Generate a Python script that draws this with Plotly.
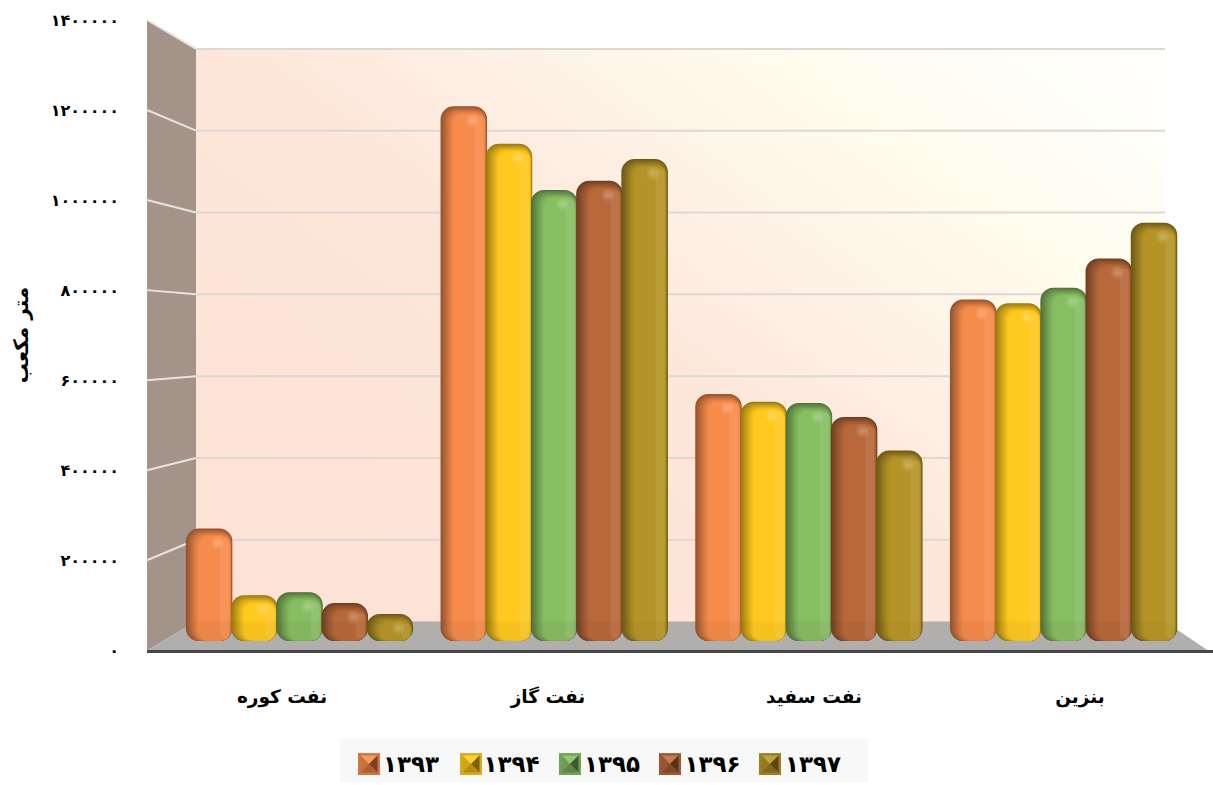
import plotly.graph_objects as go

categories = ["نفت کوره", "نفت گاز", "نفت سفید", "بنزین"]
series_names = ["۱۳۹۳", "۱۳۹۴", "۱۳۹۵", "۱۳۹۶", "۱۳۹۷"]
v1393 = [258000, 1227000, 567000, 784000]
v1394 = [105000, 1141000, 549000, 775000]
v1395 = [112000, 1035000, 546000, 811000]
v1396 = [87000, 1056000, 514000, 878000]
v1397 = [62000, 1106000, 437000, 960000]
series_values = [v1393, v1394, v1395, v1396, v1397]
series_colors = ["#F68B4B", "#FFC91F", "#86BE62", "#B8683A", "#B59427"]
tick_values = [0, 200000, 400000, 600000, 800000, 1000000, 1200000, 1400000]
tick_labels = ["۰", "۲۰۰۰۰۰", "۴۰۰۰۰۰", "۶۰۰۰۰۰", "۸۰۰۰۰۰", "۱۰۰۰۰۰۰", "۱۲۰۰۰۰۰", "۱۴۰۰۰۰۰"]
y_title = "متر مکعب"

W, H = 1213, 785
L, R, T, B = 147, 1213, 20, 652.5
FONT = "DejaVu Sans"


def px(x):
    return (x - L) / (R - L)


def py(y):
    return (B - y) / (B - T)


def rgb(h):
    return tuple(int(h[i:i + 2], 16) for i in (1, 3, 5))


def hexs(c):
    return "#%02X%02X%02X" % tuple(int(round(v)) for v in c)


def mix(h, other, f):
    a, b = rgb(h), rgb(other)
    return hexs([a[i] + (b[i] - a[i]) * f for i in range(3)])


def poly(pts):
    return "M" + " L".join(f"{px(x):.5f},{py(y):.5f}" for x, y in pts) + " Z"


# value-scale of the front of the bars
BASE_PX = 643.5
UNIT = 200000 / 87.5  # value units per pixel
PITCH = 254.7         # px between groups
CENTER0 = 299.5       # px of first group's centre
BAR_W = 46.5 / PITCH
STEP = 45.2 / PITCH

fig = go.Figure()

# legend carriers
for name in series_names:
    fig.add_trace(go.Bar(x=[0, 1, 2, 3], y=[0, 0, 0, 0], name=name,
                         marker=dict(color="rgba(0,0,0,0)", opacity=0, line=dict(width=0, color="rgba(0,0,0,0)")),
                         hoverinfo="skip", showlegend=True))

N = 14
for s, (vals, col) in enumerate(zip(series_values, series_colors)):
    start = -2.5 * STEP + s * STEP - (BAR_W - STEP) / 2
    layers = []
    for k in range(N):
        f = k / (N - 1)
        layers.append((0.28 * f, 1 - 0.05 * f ** 0.6, 8.0 * f, 0.7 * f,
                       mix(col, "#000000", 0.40 * (1 - f) ** 1.15), 13 - 4 * f))
    layers.append((0.74, 0.925, 10, 2.5, mix(col, "#FFFFFF", 0.08), 5))
    for (l0, l1, drop, rise, color, rad) in layers:
        off = start + l0 * BAR_W
        wid = (l1 - l0) * BAR_W
        b = rise * UNIT
        top = [v - drop * UNIT - b for v in vals]
        fig.add_trace(go.Bar(x=[0, 1, 2, 3], y=top, base=b, offset=off, width=wid,
                             marker=dict(color=color, cornerradius=rad, line=dict(width=0)),
                             hoverinfo="skip", showlegend=False))
    # soft highlight near the top right
    fig.add_trace(go.Scatter(x=[i + start + 0.68 * BAR_W for i in range(4)], y=[v - 14 * UNIT for v in vals],
                             mode="markers", showlegend=False, hoverinfo="skip",
                             marker=dict(size=15, color="rgba(255,255,255,0)", line=dict(width=0),
                                         gradient=dict(type="radial", color="rgba(255,255,255,0.28)"))))

# carrier of the outer (tick) axes
fig.add_trace(go.Scatter(x=categories, y=[0, 0, 0, 0], xaxis="x2", yaxis="y2", mode="markers",
                         marker=dict(opacity=0), showlegend=False, hoverinfo="skip"))

shapes = []
# back wall gradient: nested regions, painted from low to high t
stops = [(0, "#FDE2D5"), (.45, "#FDE5D9"), (.59, "#FEEFE4"), (.72, "#FFF8EB"), (.80, "#FFFDEF"), (.87, "#FFFDF4"), (1, "#FFFFFF")]


def wall_color(t):
    for (a, ca), (b, cb) in zip(stops, stops[1:]):
        if t <= b:
            return mix(ca, cb, (t - a) / (b - a))
    return stops[-1][1]


def wall_t(x, y):
    return (x - 196) / 969 * .55 + (624 - y) / 575 * .45


def clip_wall(t0):
    rect = [(196, 49), (1165, 49), (1165, 624), (196, 624)]
    out = []
    for p, q in zip(rect, rect[1:] + rect[:1]):
        tp, tq = wall_t(*p), wall_t(*q)
        if tp >= t0:
            out.append(p)
        if (tp >= t0) != (tq >= t0):
            r = (t0 - tp) / (tq - tp)
            out.append((p[0] + (q[0] - p[0]) * r, p[1] + (q[1] - p[1]) * r))
    return out


for k in range(70):
    t0 = k / 70
    pts = clip_wall(t0)
    if len(pts) >= 3:
        shapes.append(dict(type="path", xref="paper", yref="paper", path=poly(pts),
                           fillcolor=wall_color(t0 + 0.5 / 70), line=dict(width=0), layer="below"))
# side wall and floor
shapes.append(dict(type="path", xref="paper", yref="paper", path=poly([(147, 20), (196, 49), (196, 624), (147, 653)]),
                   fillcolor="#A39389", line=dict(width=0), layer="below"))
shapes.append(dict(type="path", xref="paper", yref="paper", path=poly([(147, 653), (196, 624), (1165, 624), (1208, 653)]),
                   fillcolor="#B6B6B6", line=dict(width=0), layer="below"))
# gridlines
for k in range(8):
    yb = 49 + 82.14 * k
    yl = 20 + 90.4 * k
    if k < 7:
        shapes.append(dict(type="line", xref="paper", yref="paper", x0=px(196), x1=px(1165), y0=py(yb), y1=py(yb),
                           line=dict(color="#DCD8D4", width=2), layer="below"))
        shapes.append(dict(type="line", xref="paper", yref="paper", x0=px(147), x1=px(196), y0=py(yl), y1=py(yb),
                           line=dict(color="#E6E3E0", width=2), layer="below"))
# translucent floor seen through the bars
shapes.append(dict(type="path", xref="paper", yref="paper", path=poly([(147, 653), (196, 624), (1165, 624), (1208, 653)]),
                   fillcolor="rgba(90,60,30,0.06)", line=dict(width=0), layer="above"))
# legend panel
shapes.append(dict(type="rect", xref="paper", yref="paper", x0=px(340), x1=px(868), y0=py(785), y1=py(741),
                   fillcolor="#F8F8F8", line=dict(width=0), layer="below"))
# legend icons
icon_x = [358, 460, 559, 659, 759]
for x0, col in zip(icon_x, series_colors):
    ix0, ix1, iy0, iy1 = x0, x0 + 22, 756, 778
    a, b = 2.5, 11
    cx, cy = x0 + b, iy0 + b
    shapes.append(dict(type="rect", xref="paper", yref="paper", x0=px(ix0), x1=px(ix1), y0=py(iy1), y1=py(iy0),
                       fillcolor=mix(col, "#000000", .15), line=dict(width=0), layer="below"))
    facets = [
        ([(ix0 + a, iy0 + a), (ix1 - a, iy0 + a), (cx, cy)], mix(col, "#FFFFFF", .12)),
        ([(ix0 + a, iy0 + a), (ix0 + a, iy1 - a), (cx, cy)], mix(col, "#000000", .18)),
        ([(ix1 - a, iy0 + a), (ix1 - a, iy1 - a), (cx, cy)], mix(col, "#000000", .52)),
        ([(ix0 + a, iy1 - a), (ix1 - a, iy1 - a), (cx, cy)], mix(col, "#000000", .30)),
    ]
    for pts, c in facets:
        shapes.append(dict(type="path", xref="paper", yref="paper", path=poly(pts), fillcolor=c,
                           line=dict(width=0), layer="below"))

x_low = -(CENTER0 - L) / PITCH
x_high = (R - CENTER0) / PITCH
y_low = -(B - BASE_PX) * UNIT
y_high = (BASE_PX - T) * UNIT

fig.update_layout(
    width=W, height=H, autosize=False,
    margin=dict(l=L, r=W - R, t=T, b=H - B, pad=0),
    paper_bgcolor="#FFFFFF", plot_bgcolor="rgba(0,0,0,0)",
    barmode="overlay", font=dict(family=FONT, color="#000000"),
    shapes=shapes,
    xaxis=dict(range=[x_low, x_high], visible=False, fixedrange=True),
    yaxis=dict(range=[y_low, y_high], visible=False, fixedrange=True),
    xaxis2=dict(type="category", categoryorder="array", categoryarray=categories, overlaying="x", anchor="y2",
                side="bottom", range=[-0.5 - 2 / 266, 3.5], showgrid=False, zeroline=False, ticks="",
                showline=True, linecolor="#45474A", linewidth=3, ticklabelstandoff=28,
                tickfont=dict(family=FONT, size=18.5, color="#000000", weight=700), fixedrange=True),
    yaxis2=dict(overlaying="y", anchor="x2", side="left", range=[0, 1400000], tickmode="array",
                tickvals=tick_values, ticktext=tick_labels, showgrid=False, zeroline=False, showline=False, ticks="",
                ticklabelstandoff=27, tickfont=dict(family=FONT, size=16, color="#000000", weight=700),
                title=dict(text=y_title, standoff=16, font=dict(family=FONT, size=20, color="#000000", weight=700)),
                fixedrange=True),
    legend=dict(orientation="h", x=px(343), y=py(767), xanchor="left", yanchor="middle", bgcolor="rgba(0,0,0,0)",
                entrywidth=55.5, entrywidthmode="pixels", traceorder="normal",
                font=dict(family=FONT, size=23, color="#000000", weight=700)),
    showlegend=True,
)

fig.write_html("out.html", post_script="document.body.style.margin='0';document.documentElement.style.overflow='hidden';",
               config=dict(displayModeBar=False))
